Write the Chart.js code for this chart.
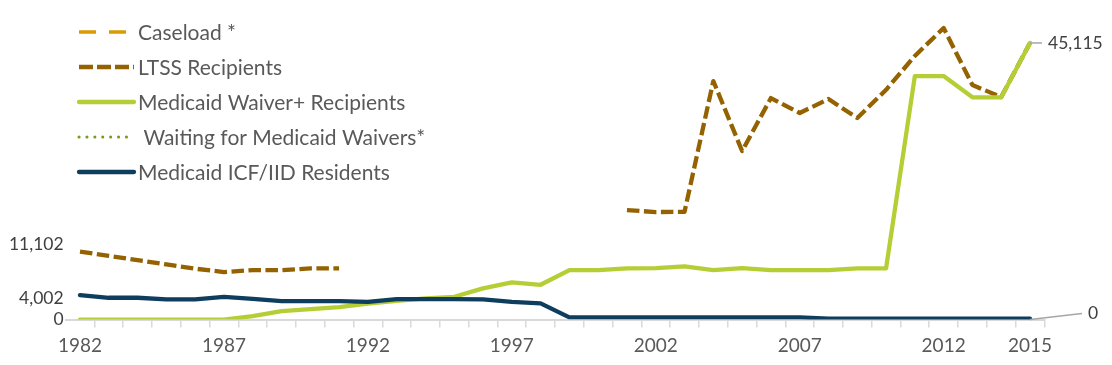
<!DOCTYPE html>
<html>
<head>
  <title>Caseload trends</title>
  <script src="https://cdn.jsdelivr.net/npm/chart.js"></script>
  <style>
    html, body { margin: 0; padding: 0; background: #fff; }
    #wrap { width: 1112px; height: 365px; position: relative; }
  </style>
</head>
<body>
  <div id="wrap"><canvas id="trendChart"></canvas></div>

  <script>
    const years = [1982, 1983, 1984, 1985, 1986, 1987, 1988, 1989, 1990, 1991,
                   1992, 1993, 1994, 1995, 1996, 1997, 1998, 1999, 2000, 2001,
                   2002, 2003, 2004, 2005, 2006, 2007, 2008, 2009, 2010, 2011,
                   2012, 2013, 2014, 2015];
    const labelYears = [1982, 1987, 1992, 1997, 2002, 2007, 2012, 2015];

    const caseload = years.map(() => null);
    const ltss = [11102, 10400, 9700, 9000, 8300, 7750, 8075, 8075, 8350, 8350,
                  null, null, null, null, null, null, null, null, null, 17860,
                  17540, 17590, 38900, 27490, 36130, 33690, 35970, 32870, 37480, 43000,
                  47550, 38250, 36300, 45115];
    const waiver = [0, 0, 0, 0, 0, 0, 570, 1390, 1710, 2040,
                    2610, 3070, 3460, 3720, 5090, 6070, 5680, 8075, 8075, 8350,
                    8400, 8680, 8075, 8400, 8075, 8075, 8075, 8350, 8350, 39720,
                    39720, 36250, 36250, 45115];
    const waiting = [null, null, null, null, null, null, null, null, null, null,
                     null, null, null, null, null, null, null, null, null, null,
                     null, null, null, null, null, null, null, null, null, null,
                     null, null, null, 0];
    const icf = [4002, 3560, 3560, 3300, 3300, 3720, 3390, 3020, 3020, 3020,
                 2900, 3340, 3340, 3340, 3300, 2900, 2640, 360, 360, 360,
                 360, 360, 360, 360, 360, 360, 150, 150, 150, 150,
                 150, 150, 150, 150];

    const FONT = 'Lato, "Open Sans", sans-serif';
    const pts = arr => years.map((y, i) => ({ x: y, y: arr[i] }));
    const fmt = v => v.toLocaleString('en-US');

    // small data labels drawn next to chosen points (dataset, index, side, offsets)
    const pointLabels = [
      { ds: 1, idx: 0, side: 'left', dy: -7 },
      { ds: 4, idx: 0, side: 'left', dy: 3 },
      { ds: 2, idx: 0, side: 'left', dy: 0 },
      { ds: 1, idx: years.length - 1, side: 'right', lead: [12, 0], dy: 0 },
      { ds: 3, idx: years.length - 1, side: 'right', lead: [52, -6], dy: 0 }
    ];

    const labelPlugin = {
      id: 'labelPlugin',
      afterDatasetsDraw(chart) {
        const ctx = chart.ctx;
        const xs = chart.scales.x, ys = chart.scales.y;
        ctx.save();
        ctx.font = '17.5px ' + FONT;
        ctx.fillStyle = '#404040';
        ctx.textBaseline = 'middle';
        pointLabels.forEach(l => {
          const v = chart.data.datasets[l.ds].data[l.idx].y;
          const px = xs.getPixelForValue(years[l.idx]);
          const py = ys.getPixelForValue(v);
          if (l.side === 'left') {
            ctx.textAlign = 'right';
            ctx.fillText(fmt(v), xs.left - 2, py + l.dy);
          } else {
            ctx.strokeStyle = '#A6A6A6';
            ctx.lineWidth = 1.5;
            ctx.beginPath();
            ctx.moveTo(px, py);
            ctx.lineTo(px + l.lead[0], py + l.lead[1]);
            ctx.stroke();
            ctx.textAlign = 'left';
            ctx.fillText(fmt(v), px + l.lead[0] + 6, py + l.lead[1] + l.dy);
          }
        });
        ctx.restore();
      }
    };

    const legendPlugin = {
      id: 'legendPlugin',
      afterDraw(chart) {
        const ctx = chart.ctx;
        ctx.save();
        ctx.font = '21px ' + FONT;
        ctx.textBaseline = 'middle';
        ctx.textAlign = 'left';
        chart.data.datasets.forEach((ds, i) => {
          const y = 32 + i * 35;
          ctx.strokeStyle = ds.borderColor;
          ctx.lineWidth = ds.legendWidth || ds.borderWidth;
          ctx.lineCap = ds.borderCapStyle || 'butt';
          ctx.setLineDash(ds.legendDash || ds.borderDash || []);
          ctx.beginPath();
          ctx.moveTo(79, y);
          ctx.lineTo(134, y);
          ctx.stroke();
          ctx.setLineDash([]);
          ctx.fillStyle = '#595959';
          ctx.fillText(ds.label, 138, y + 1);
        });
        ctx.restore();
      }
    };

    const tickValues = [];
    years.forEach(y => {
      tickValues.push(y);
      tickValues.push(y + 0.5);
    });

    new Chart(document.getElementById('trendChart'), {
      type: 'line',
      data: {
        datasets: [
          { label: 'Caseload *', data: pts(caseload), borderColor: '#DA9A00', borderWidth: 3.5,
            borderDash: [17, 13], order: 4 },
          { label: 'LTSS Recipients', data: pts(ltss), borderColor: '#946200', borderWidth: 4.3,
            borderDash: [12.5, 4.5], legendDash: [14, 4], order: 2 },
          { label: 'Medicaid Waiver+ Recipients', data: pts(waiver), borderColor: '#B5CE35', borderWidth: 4.3,
            borderCapStyle: 'round', order: 1 },
          { label: ' Waiting for Medicaid Waivers*', data: pts(waiting), borderColor: '#7A9A1E', borderWidth: 3,
            borderDash: [0.1, 7.8], borderCapStyle: 'round', order: 3 },
          { label: 'Medicaid ICF/IID Residents', data: pts(icf), borderColor: '#0F3D5E', borderWidth: 4.3,
            borderCapStyle: 'round', order: 0 }
        ]
      },
      options: {
        responsive: true,
        maintainAspectRatio: false,
        animation: false,
        spanGaps: false,
        layout: { padding: { left: 65.6, right: 67.6, top: 13, bottom: 0 } },
        elements: {
          point: { radius: 0, hoverRadius: 0 },
          line: { tension: 0, borderJoinStyle: 'round' }
        },
        plugins: {
          legend: { display: false },
          tooltip: { enabled: false }
        },
        scales: {
          x: {
            type: 'linear',
            min: 1981.5,
            max: 2015.5,
            afterBuildTicks: axis => {
              axis.ticks = tickValues.map(v => ({ value: v }));
            },
            ticks: {
              autoSkip: false,
              maxRotation: 0,
              padding: 7.3,
              color: '#595959',
              font: { family: FONT, size: 19 },
              callback: v => labelYears.includes(v) ? String(v) : ''
            },
            grid: {
              drawOnChartArea: false,
              tickLength: 8,
              lineWidth: 1.5,
              color: ctx => (ctx.tick && ctx.tick.value % 1 !== 0 && ctx.tick.value > 1982) ? '#D9D9D9' : 'rgba(0,0,0,0)'
            },
            border: { display: true, color: '#D9D9D9', width: 2 }
          },
          y: {
            display: false,
            min: 0,
            max: 50000
          }
        }
      },
      plugins: [labelPlugin, legendPlugin]
    });
  </script>
</body>
</html>
